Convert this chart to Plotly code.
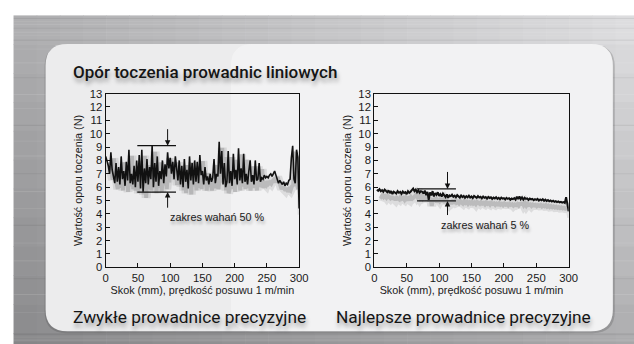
import plotly.graph_objects as go

# ---------------- data ----------------
title_text = "Opór toczenia prowadnic liniowych"
caption_left = "Zwykłe prowadnice precyzyjne"
caption_right = "Najlepsze prowadnice precyzyjne"
x_title = "Skok (mm), prędkość posuwu 1 m/min"
y_title = "Wartość oporu toczenia (N)"
y_ticks = list(range(0, 14))
x_ticks = [0, 50, 100, 150, 200, 250, 300]

left_x = list(range(0, 301, 2))
left_y = [
    8.3, 8.0, 7.6, 7.0, 8.6, 7.3, 6.6, 6.3, 7.8, 6.4,
    7.5, 6.2, 8.3, 6.6, 7.2, 6.1, 7.9, 6.5, 8.8, 6.3,
    7.0, 6.2, 7.6, 6.0, 8.0, 6.4, 8.4, 5.9, 8.8, 5.65,
    7.4, 6.3, 8.1, 6.2, 7.5, 6.6, 9.1, 6.0, 7.8, 6.4,
    8.3, 6.1, 7.2, 6.6, 8.0, 6.3, 7.7, 6.8, 8.6, 7.4,
    8.2, 7.0, 7.9, 6.6, 8.3, 7.2, 6.5, 8.0, 6.2, 7.6,
    6.0, 8.1, 6.4, 7.3, 5.9, 8.3, 6.5, 7.8, 6.2, 8.0,
    6.4, 7.9, 6.3, 8.4, 6.9, 7.2, 6.2, 7.5, 6.5, 6.8,
    6.2, 7.0, 6.4, 6.7, 8.1, 6.3, 7.0, 6.8, 9.4, 7.0,
    8.7, 6.2, 7.8, 6.0, 6.4, 8.7, 6.3, 7.2, 6.1, 8.5,
    6.6, 7.3, 6.2, 8.9, 6.5, 7.4, 6.3, 8.5, 6.4, 7.0,
    6.2, 7.2, 8.0, 6.4, 6.9, 6.2, 8.0, 6.5, 6.6, 7.8,
    6.4, 6.7, 6.6, 6.9, 6.7, 6.8, 6.7, 6.9, 7.0, 6.8,
    7.0, 7.2, 6.9, 6.6, 6.3, 6.5, 6.3, 6.2, 6.4, 6.1,
    6.3, 6.2, 6.5, 6.6, 8.2, 9.1, 6.6, 6.3, 8.8, 8.2,
    4.4,
]

right_x = list(range(4, 301, 2))
right_y = [
    5.80, 5.72, 5.85, 5.70, 5.78, 5.66, 5.82, 5.74, 5.62, 5.76,
    5.55, 5.70, 5.48, 5.66, 5.60, 5.52, 5.71, 5.58, 5.64, 5.50,
    5.68, 5.56, 5.62, 5.48, 5.70, 5.58, 5.66, 5.78, 5.90, 5.70,
    5.82, 5.62, 5.76, 5.58, 5.70, 5.66, 5.52, 5.74, 5.40, 5.65,
    5.05, 5.60, 5.38, 5.70, 5.30, 5.55, 5.42, 5.62, 5.35, 5.48,
    5.30, 5.52, 5.40, 5.26, 5.46, 5.20, 5.38, 5.32, 5.44, 5.28,
    5.36, 5.24, 5.40, 5.30, 5.22, 5.38, 5.26, 5.34, 5.20, 5.32,
    5.24, 5.36, 5.22, 5.30, 5.18, 5.34, 5.25, 5.20, 5.33, 5.22,
    5.28, 5.16, 5.30, 5.20, 5.26, 5.14, 5.27, 5.19, 5.24, 5.12,
    5.22, 5.16, 5.25, 5.13, 5.20, 5.10, 5.22, 5.14, 5.18, 5.08,
    5.20, 5.12, 5.17, 5.06, 5.15, 5.10, 5.18, 5.07, 5.28, 5.12,
    5.30, 5.10, 5.24, 5.06, 5.20, 5.12, 5.16, 5.04, 5.14, 5.08,
    5.12, 5.02, 5.10, 5.05, 5.12, 5.00, 5.08, 5.02, 5.10, 4.98,
    5.06, 4.96, 5.03, 4.94, 5.00, 4.92, 4.98, 4.90, 4.95, 4.88,
    4.93, 4.86, 4.90, 4.84, 4.88, 4.82, 5.25, 4.80, 4.20,
]

# range markers: [x_start, x_end], [upper, lower], arrow x, arrow tails [top, bottom]
left_band_x = [49, 109]
left_band_y = [9.1, 5.63]
left_arrow_x = 96
left_arrow_tail = [10.45, 4.35]
left_label = "zakres wahań 50 %"
left_label_pos = [173, 3.8]

right_band_x = [66, 126]
right_band_y = [5.87, 4.97]
right_arrow_x = 113
right_arrow_tail = [7.25, 3.8]
right_label = "zakres wahań 5 %"
right_label_pos = [172, 3.17]

# ---------------- layout helpers ----------------
W, H = 634, 344
# measured mapping of paper space to the captured picture
SX, SY, OX, OY = 0.979, 0.975, 2.5, 0.5
def px(x):
    return (x - OX) / (W * SX)
def py(y):
    return 1 - (y - OY) / (H * SY)

LEFT_DOM = [px(105), px(298)]
RIGHT_DOM = [px(373), px(567)]
Y_DOM = [py(264.5), py(89)]

SANS = "Liberation Sans, Arial, Helvetica, sans-serif"
ROBOTO = "Roboto, Noto Sans, sans-serif"
INK = "#1a1a1a"

fig = go.Figure()

# shadow traces (on hidden base axes, shifted range)
for xs, ys, xa, ya in [(left_x, left_y, "x", "y"), (right_x, right_y, "x3", "y3")]:
    fig.add_trace(go.Scatter(x=xs, y=ys, xaxis=xa, yaxis=ya, mode="lines",
                             line=dict(color="rgba(0,0,0,0.09)", width=9),
                             hoverinfo="skip", showlegend=False))
    fig.add_trace(go.Scatter(x=xs, y=ys, xaxis=xa, yaxis=ya, mode="lines",
                             line=dict(color="rgba(0,0,0,0.15)", width=4),
                             hoverinfo="skip", showlegend=False))

# main traces
fig.add_trace(go.Scatter(x=left_x, y=left_y, xaxis="x2", yaxis="y2", mode="lines",
                         line=dict(color="#111111", width=1.6), showlegend=False))
fig.add_trace(go.Scatter(x=right_x, y=right_y, xaxis="x4", yaxis="y4", mode="lines",
                         line=dict(color="#111111", width=2.0), showlegend=False))

def main_xaxis(dom, anchor):
    return dict(domain=dom, range=[0, 300], tickvals=x_ticks, ticks="inside", ticklen=4,
                tickwidth=1, tickcolor="#111", showline=True, linecolor="#111", linewidth=1.2,
                mirror=True, showgrid=False, zeroline=False,
                tickfont=dict(family=SANS, size=11.3, color=INK),
                title=dict(text=x_title, font=dict(family=SANS, size=10.8, color=INK), standoff=3),
                anchor=anchor)

def main_yaxis(anchor):
    return dict(domain=Y_DOM, range=[0, 13], tickvals=y_ticks, ticks="inside", ticklen=4,
                tickwidth=1, tickcolor="#111", showline=True, linecolor="#111", linewidth=1.2,
                mirror=True, showgrid=False, zeroline=False,
                tickfont=dict(family=SANS, size=11.3, color=INK),
                title=dict(text=y_title, font=dict(family=SANS, size=10.8, color=INK), standoff=4),
                anchor=anchor)

shadow_x = dict(range=[-4.7, 295.3], visible=False, showgrid=False, zeroline=False)
shadow_y = dict(range=[0.45, 13.45], visible=False, showgrid=False, zeroline=False, domain=Y_DOM)

layout = dict(
    width=W, height=H, margin=dict(l=0, r=0, t=0, b=0, pad=0), autosize=False,
    paper_bgcolor="white", plot_bgcolor="rgba(0,0,0,0)", showlegend=False,
    xaxis=dict(shadow_x, domain=LEFT_DOM, anchor="y"),
    yaxis=dict(shadow_y, anchor="x"),
    xaxis3=dict(shadow_x, domain=RIGHT_DOM, anchor="y3"),
    yaxis3=dict(shadow_y, anchor="x3"),
    xaxis2=dict(main_xaxis(LEFT_DOM, "y2"), overlaying="x"),
    yaxis2=dict(main_yaxis("x2"), overlaying="y"),
    xaxis4=dict(main_xaxis(RIGHT_DOM, "y4"), overlaying="x3"),
    yaxis4=dict(main_yaxis("x4"), overlaying="y3"),
)
fig.update_layout(**layout)

shapes = []
# brushed-metal background as a bilinear grid of rectangles (extends past the edges)
cols, rows = 28, 12
x0b, y0b, x1b, y1b = 13, 10, 660, 360
for i in range(cols):
    for j in range(rows):
        u = (i + 0.5) / cols
        v = (j + 0.5) / rows
        c = (176 * (1 - u) * (1 - v) + 226 * u * (1 - v) + 136 * (1 - u) * v + 172 * u * v)
        c = int(c)
        shapes.append(dict(type="rect", xref="paper", yref="paper", layer="below",
                           x0=px(x0b + (x1b - x0b) * i / cols), x1=px(x0b + (x1b - x0b) * (i + 1) / cols + 0.6),
                           y0=py(y0b + (y1b - y0b) * (j + 1) / rows + 0.6), y1=py(y0b + (y1b - y0b) * j / rows),
                           fillcolor=f"rgb({c},{c},{c + 2})", line=dict(width=0)))
# brushed streaks
streak_rows = [13, 16, 19, 23, 27, 30, 35, 44, 58, 73, 90, 104, 121, 137, 152, 170, 188, 205,
               222, 240, 258, 276, 292, 310, 332, 335, 338, 341]
for k, yy in enumerate(streak_rows):
    a = 0.12 if k % 2 == 0 else 0.08
    col = f"rgba(255,255,255,{a})" if k % 3 else f"rgba(0,0,0,{a*0.7})"
    shapes.append(dict(type="line", xref="paper", yref="paper", layer="below",
                       x0=px(13), x1=px(660), y0=py(yy), y1=py(yy), line=dict(color=col, width=1)))

# rounded panel (with soft shadow)
def rounded(x0, y0, x1, y1, r):
    rx, ry = r / (W * SX), r / (H * SY)
    X0, X1 = px(x0), px(x1)
    Yt, Yb = py(y0), py(y1)
    return (f"M {X0+rx},{Yt} L {X1-rx},{Yt} Q {X1},{Yt} {X1},{Yt-ry} L {X1},{Yb+ry} "
            f"Q {X1},{Yb} {X1-rx},{Yb} L {X0+rx},{Yb} Q {X0},{Yb} {X0},{Yb+ry} "
            f"L {X0},{Yt-ry} Q {X0},{Yt} {X0+rx},{Yt} Z")

shapes.append(dict(type="path", xref="paper", yref="paper", layer="below",
                   path=rounded(44, 40, 613, 331, 22), fillcolor="rgba(60,60,60,0.22)",
                   line=dict(width=0)))
shapes.append(dict(type="path", xref="paper", yref="paper", layer="below",
                   path=rounded(45, 39, 611, 329, 22), fillcolor="rgb(236,236,237)",
                   line=dict(width=0)))
shapes.append(dict(type="path", xref="paper", yref="paper", layer="below",
                   path=rounded(230, 39, 611, 329, 22), fillcolor="rgba(250,250,251,0.45)",
                   line=dict(width=0)))

# range marker lines
for bx, by, xr, yr in [(left_band_x, left_band_y, "x2", "y2"), (right_band_x, right_band_y, "x4", "y4")]:
    for yv in by:
        shapes.append(dict(type="line", xref=xr, yref=yr, x0=bx[0], x1=bx[1], y0=yv, y1=yv,
                           line=dict(color="#111", width=1.3)))

annotations = []
# arrows
for ax_x, by, tails, xr, yr in [(left_arrow_x, left_band_y, left_arrow_tail, "x2", "y2"),
                                (right_arrow_x, right_band_y, right_arrow_tail, "x4", "y4")]:
    for head, tail in [(by[0], tails[0]), (by[1], tails[1])]:
        annotations.append(dict(x=ax_x, y=head, ax=ax_x, ay=tail, xref=xr, yref=yr,
                                axref=xr, ayref=yr, text="", showarrow=True, arrowhead=2,
                                arrowsize=1.1, arrowwidth=1, arrowcolor="#111"))
# range labels
for txt, pos, xr, yr in [(left_label, left_label_pos, "x2", "y2"), (right_label, right_label_pos, "x4", "y4")]:
    annotations.append(dict(x=pos[0], y=pos[1], xref=xr, yref=yr, text=txt, showarrow=False,
                            font=dict(family=SANS, size=10.8, color=INK,
                                      shadow="1px 3px 3px rgba(0,0,0,0.3)")))

# title and captions
def text_ann(txt, x, y, size, anchor, weight=400):
    return dict(x=px(x), y=py(y), xref="paper", yref="paper", text=txt, showarrow=False,
                xanchor=anchor, yanchor="middle",
                font=dict(family=ROBOTO, size=size, color="#151515", weight=weight,
                          shadow="1px 4px 4px rgba(0,0,0,0.35)"))

annotations.append(text_ann(title_text, 70, 67, 17, "left", 500))
annotations.append(text_ann(caption_left, 70, 315, 17.3, "left"))
annotations.append(text_ann(caption_right, 591, 315, 17.3, "right"))

fig.update_layout(shapes=shapes, annotations=annotations)
fig.write_html("out.html")
